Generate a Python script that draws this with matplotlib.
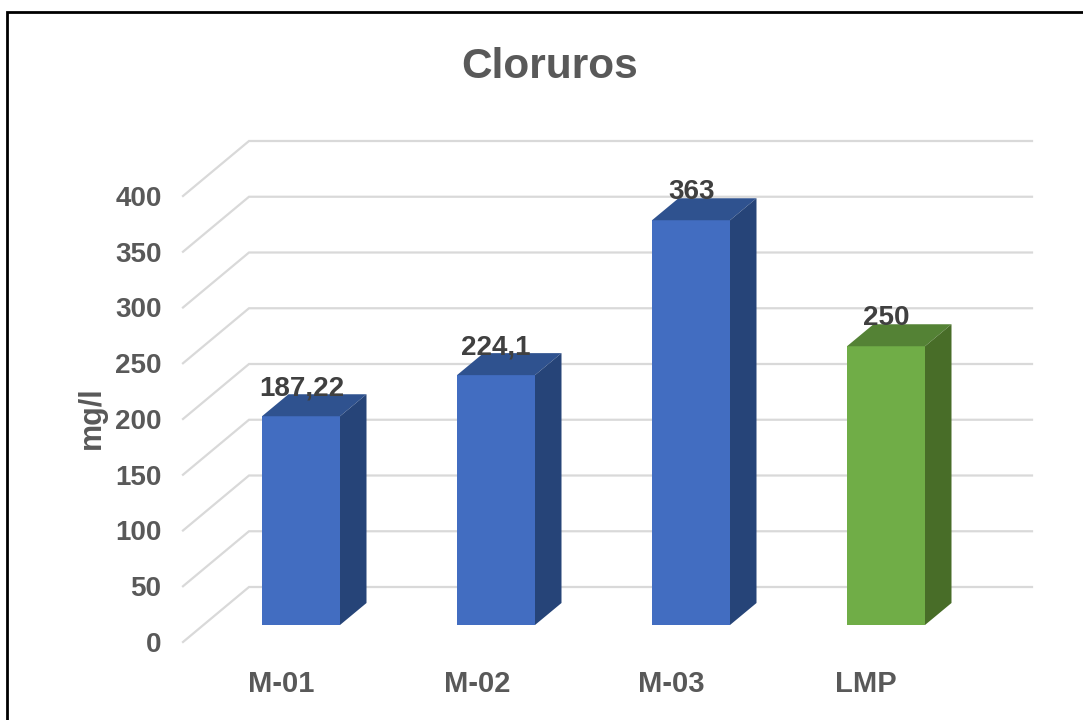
import matplotlib
matplotlib.use('Agg')
import matplotlib.pyplot as plt
from matplotlib.patches import Polygon

plt.rcParams['font.family'] = ['Liberation Sans', 'DejaVu Sans']

categorias = ['M-01', 'M-02', 'M-03', 'LMP']
valores = [187.22, 224.1, 363, 250]
etiquetas = ['187,22', '224,1', '363', '250']
ticks_y = [0, 50, 100, 150, 200, 250, 300, 350, 400]

PX_X = 195.0    # pixels per category
PX_Y = 1.115    # pixels per mg/l


def px(x):
    return x / PX_X


def py(y):
    return y / PX_Y


fig = plt.figure(figsize=(10.83, 7.2), dpi=100, facecolor='white')
ax = fig.add_axes([0, 0, 1, 1])
# category 0 is centred at x=301 px, value 0 sits at y=625 px
ax.set_xlim(-301 / PX_X, (1083 - 301) / PX_X)
ax.set_ylim(-(720 - 625) / PX_Y, 625 / PX_Y)
ax.axis('off')

# marco de la imagen
ax.plot([px(7 - 301), px(7 - 301), px(1083 - 301)],
        [py(625 - 720), py(625 - 12.5), py(625 - 12.5)],
        color='black', lw=2, solid_joinstyle='miter', zorder=5)

# grid: diagonal on the floor/wall, then the back wall line
for t in ticks_y:
    ax.plot([px(183 - 301), px(249 - 301), px(1032 - 301)],
            [t + py(-17), t + py(38), t + py(38)],
            color='#d9d9d9', lw=1.6, solid_joinstyle='miter', zorder=1)
    ax.text(px(161.5 - 301), t + py(-20), str(t), ha='right', va='center',
            fontsize=20, fontweight='bold', color='#595959')

ancho = px(78)
dx = px(26.5)
dy = py(22)
colores = [('#426dc1', '#2f528f', '#264478')] * 3 + [('#70ad47', '#548235', '#486d28')]

for i, (v, lab) in enumerate(zip(valores, etiquetas)):
    frente, arriba, lado = colores[i]
    x0 = i - ancho / 2
    x1 = i + ancho / 2
    ax.bar(i, v, width=ancho, color=frente, zorder=3)
    ax.add_patch(Polygon([(x0, v), (x1, v), (x1 + dx, v + dy), (x0 + dx, v + dy)],
                         closed=True, color=arriba, lw=0, zorder=3))
    ax.add_patch(Polygon([(x1, 0), (x1 + dx, dy), (x1 + dx, v + dy), (x1, v)],
                         closed=True, color=lado, lw=0, zorder=3))
    ax.text(i + px([1, -0.5, 1, 0.5][i]), v + py(28), lab, ha='center', va='center',
            fontsize=20, fontweight='bold', color='#404040', zorder=4)
    ax.text(i + px([-19.5, -19, -20, -20][i]), py(-59), categorias[i], ha='center', va='center',
            fontsize=21, fontweight='bold', color='#595959')

ax.text(px(550 - 301), py(625 - 67), 'Cloruros', ha='center', va='center',
        fontsize=30.5, fontweight='bold', color='#595959')
ax.text(px(92 - 301), py(625 - 418), 'mg/l', ha='center', va='center', rotation=90,
        fontsize=22, fontweight='bold', color='#595959')

fig.savefig('out.png', dpi=100)
